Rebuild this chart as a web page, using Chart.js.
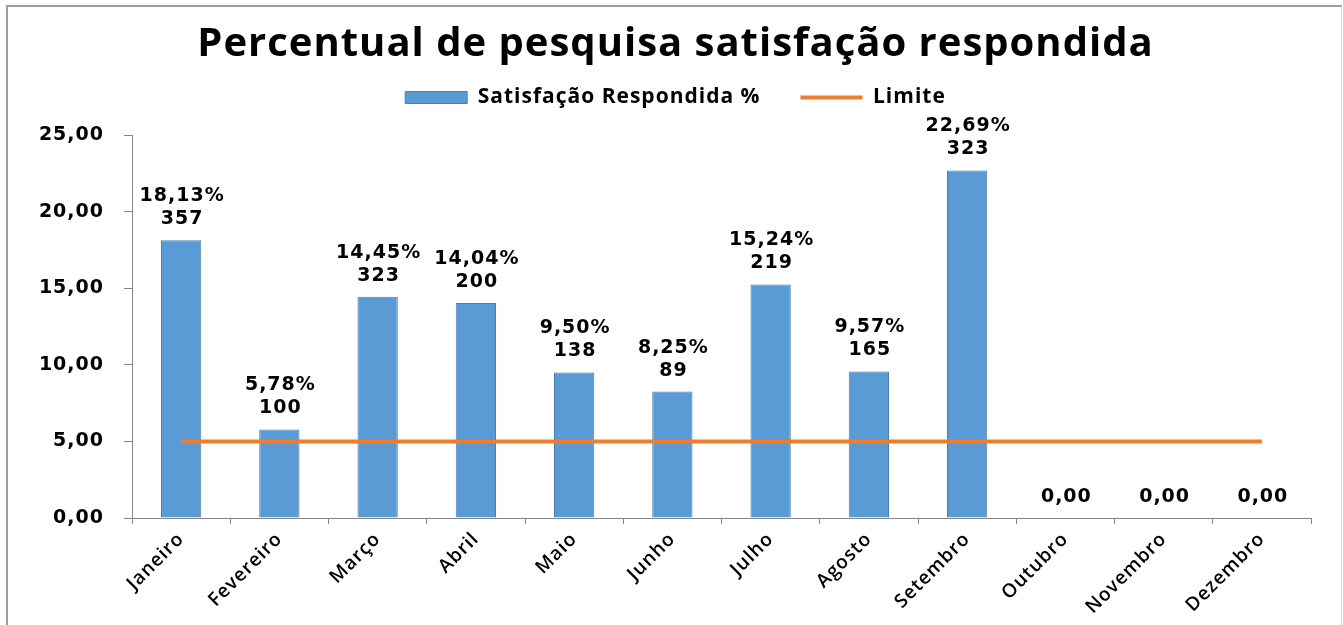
<!DOCTYPE html>
<html>
<head>
  <meta charset="UTF-8">
  <title>Percentual de pesquisa satisfação respondida</title>
  <script src="https://cdn.jsdelivr.net/npm/chart.js"></script>
  <style>
    body { margin: 0; background: #fff; }
    #wrap { position: relative; width: 1343px; height: 625px; overflow: hidden; }
    #frame {
      position: absolute; left: 6px; top: 5px; width: 1333px; height: 640px;
      border-top: 2px solid #9e9e9e; border-left: 2px solid #9e9e9e; border-right: 1px solid #d4d4d4;
    }
    canvas { position: absolute; left: 0; top: 0; }
  </style>
</head>
<body>
  <div id="wrap">
    <div id="frame"></div>
    <canvas id="chart" width="1343" height="625"></canvas>
  </div>
  <script>
    const meses = ["Janeiro", "Fevereiro", "Março", "Abril", "Maio", "Junho",
                   "Julho", "Agosto", "Setembro", "Outubro", "Novembro", "Dezembro"];
    const percentual = [18.13, 5.78, 14.45, 14.04, 9.50, 8.25, 15.24, 9.57, 22.69, 0, 0, 0];
    const respondidas = [357, 100, 323, 200, 138, 89, 219, 165, 323, null, null, null];
    const limite = [5, 5, 5, 5, 5, 5, 5, 5, 5, 5, 5, 5];

    const fmt = v => v.toFixed(2).replace(".", ",");

    // the original text is quite wide, so space the letters a little everywhere
    const spacing = {
      id: "spacing",
      beforeInit(chart) { chart.ctx.letterSpacing = "1px"; },
      beforeUpdate(chart) { chart.ctx.letterSpacing = "1px"; }
    };

    // labels above bars: "18,13%" + count, or just "0,00" for empty months
    const barLabels = {
      id: "barLabels",
      afterDatasetsDraw(chart) {
        const ctx = chart.ctx;
        const meta = chart.getDatasetMeta(0);
        ctx.save();
        ctx.font = "bold 19px 'DejaVu Sans'";
        ctx.fillStyle = "#000";
        ctx.textAlign = "center";
        ctx.textBaseline = "middle";
        meta.data.forEach((bar, i) => {
          const lines = respondidas[i] == null
            ? [fmt(percentual[i])]
            : [fmt(percentual[i]) + "%", String(respondidas[i])];
          lines.reverse().forEach((t, k) => {
            ctx.fillText(t, bar.x + 1, bar.y - 21 - k * 23);
          });
        });
        ctx.restore();
      }
    };

    new Chart(document.getElementById("chart"), {
      data: {
        labels: meses,
        datasets: [
          {
            type: "bar",
            label: "Satisfação Respondida %",
            data: percentual,
            backgroundColor: "#5B9BD5",
            borderColor: "#4A7FB0",
            borderWidth: 1,
            barPercentage: 0.41,
            categoryPercentage: 1,
            pointStyle: "rect",
            order: 2
          },
          {
            type: "line",
            label: "Limite",
            data: limite,
            borderColor: "#ED7D31",
            backgroundColor: "#ED7D31",
            borderWidth: 4,
            pointRadius: 0,
            pointStyle: "line",
            tension: 0,
            order: 1
          }
        ]
      },
      options: {
        responsive: false,
        animation: false,
        layout: { padding: { left: 40, right: 32, top: 0, bottom: 0 } },
        plugins: {
          tooltip: { enabled: false },
          title: {
            display: true,
            text: "Percentual de pesquisa satisfação respondida",
            color: "#000",
            // tiny line height so the legend can sit close under the title
            font: { family: "'Open Sans'", size: 40, weight: "bold", lineHeight: 0.1 },
            padding: { top: 43, bottom: 0 }
          },
          legend: {
            position: "top",
            labels: {
              usePointStyle: true,
              pointStyleWidth: 62,
              boxHeight: 12,
              padding: 40,
              color: "#000",
              font: { family: "'Open Sans'", size: 21, weight: "bold" },
              sort: (a, b) => a.datasetIndex - b.datasetIndex
            }
          },
          // empty subtitle used only as a spacer between legend and plot
          subtitle: {
            display: true,
            text: "",
            weight: 500,
            font: { size: 17, lineHeight: 1 },
            padding: 0
          }
        },
        scales: {
          x: {
            grid: { offset: true, drawOnChartArea: false, tickLength: 6, color: "#868686" },
            border: { color: "#868686" },
            ticks: {
              color: "#000",
              font: { family: "'Open Sans'", size: 19, weight: "600" },
              maxRotation: 45,
              minRotation: 45,
              padding: 4,
              autoSkip: false
            },
            afterFit: s => { s.height = 107; }
          },
          y: {
            min: 0,
            max: 25,
            grid: { drawOnChartArea: false, tickLength: 8, color: "#868686" },
            border: { color: "#868686" },
            ticks: {
              stepSize: 5,
              color: "#000",
              padding: 20,
              font: { family: "'DejaVu Sans'", size: 19, weight: "bold" },
              callback: v => fmt(v)
            },
            afterFit: s => { s.width = 92; }
          }
        }
      },
      plugins: [spacing, barLabels]
    });
  </script>
</body>
</html>
